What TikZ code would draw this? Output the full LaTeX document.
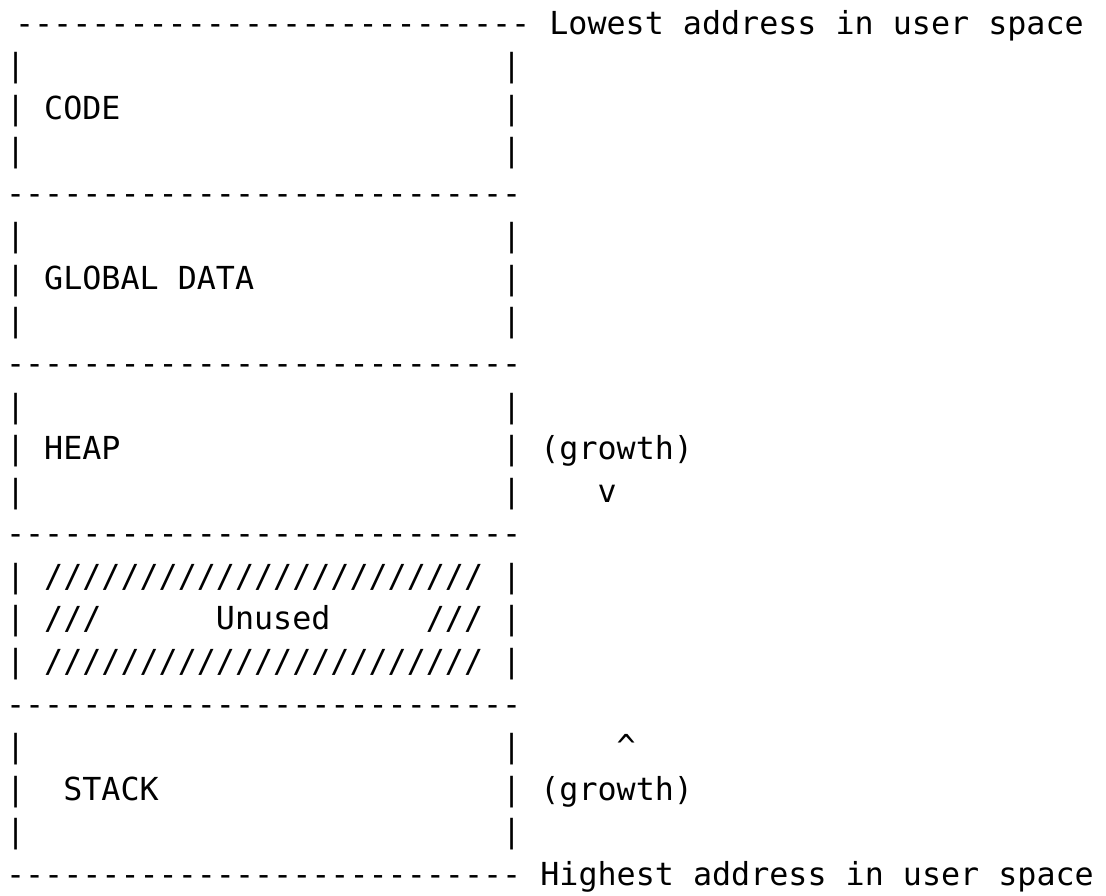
\documentclass[tikz,border=0pt]{standalone}
\usepackage{fontspec}
\newfontfamily\asciimono{DejaVu Sans Mono}
\tikzset{txt/.style={anchor=base west, inner sep=0pt, outer sep=0pt, text=black,
  font=\asciimono\fontsize{31.7}{38}\selectfont}}
\begin{document}
\begin{tikzpicture}[x=1pt,y=-1pt]
\useasboundingbox (0,0) rectangle (1106,895);
\def\bx{6}
\def\by{34}
\def\dy{42.57}
\node[txt] (l1)  at (15,\by)        {---------------------------~Lowest~address~in~user~space};
\node[txt] (l2)  at (\bx,{\by+1*\dy})  {|~~~~~~~~~~~~~~~~~~~~~~~~~|};
\node[txt] (l3)  at (\bx,{\by+2*\dy})  {|~CODE~~~~~~~~~~~~~~~~~~~~|};
\node[txt] (l4)  at (\bx,{\by+3*\dy})  {|~~~~~~~~~~~~~~~~~~~~~~~~~|};
\node[txt] (l5)  at (\bx,{\by+4*\dy})  {---------------------------};
\node[txt] (l6)  at (\bx,{\by+5*\dy})  {|~~~~~~~~~~~~~~~~~~~~~~~~~|};
\node[txt] (l7)  at (\bx,{\by+6*\dy})  {|~GLOBAL~DATA~~~~~~~~~~~~~|};
\node[txt] (l8)  at (\bx,{\by+7*\dy})  {|~~~~~~~~~~~~~~~~~~~~~~~~~|};
\node[txt] (l9)  at (\bx,{\by+8*\dy})  {---------------------------};
\node[txt] (l10) at (\bx,{\by+9*\dy})  {|~~~~~~~~~~~~~~~~~~~~~~~~~|};
\node[txt] (l11) at (\bx,{\by+10*\dy}) {|~HEAP~~~~~~~~~~~~~~~~~~~~|~(growth)};
\node[txt] (l12) at (\bx,{\by+11*\dy}) {|~~~~~~~~~~~~~~~~~~~~~~~~~|~~~~v};
\node[txt] (l13) at (\bx,{\by+12*\dy}) {---------------------------};
\node[txt] (l14) at (\bx,{\by+13*\dy}) {|~///////////////////////~|};
\node[txt] (l15) at (\bx,{\by+14*\dy}) {|~///~~~~~~Unused~~~~~///~|};
\node[txt] (l16) at (\bx,{\by+15*\dy}) {|~///////////////////////~|};
\node[txt] (l17) at (\bx,{\by+16*\dy}) {---------------------------};
\node[txt] (l18) at (\bx,{\by+17*\dy}) {|~~~~~~~~~~~~~~~~~~~~~~~~~|~~~~~\textasciicircum};
\node[txt] (l19) at (\bx,{\by+18*\dy}) {|~~STACK~~~~~~~~~~~~~~~~~~|~(growth)};
\node[txt] (l20) at (\bx,{\by+19*\dy}) {|~~~~~~~~~~~~~~~~~~~~~~~~~|};
\node[txt] (l21) at (\bx,{\by+20*\dy}) {---------------------------~Highest~address~in~user~space};
\end{tikzpicture}
\end{document}
